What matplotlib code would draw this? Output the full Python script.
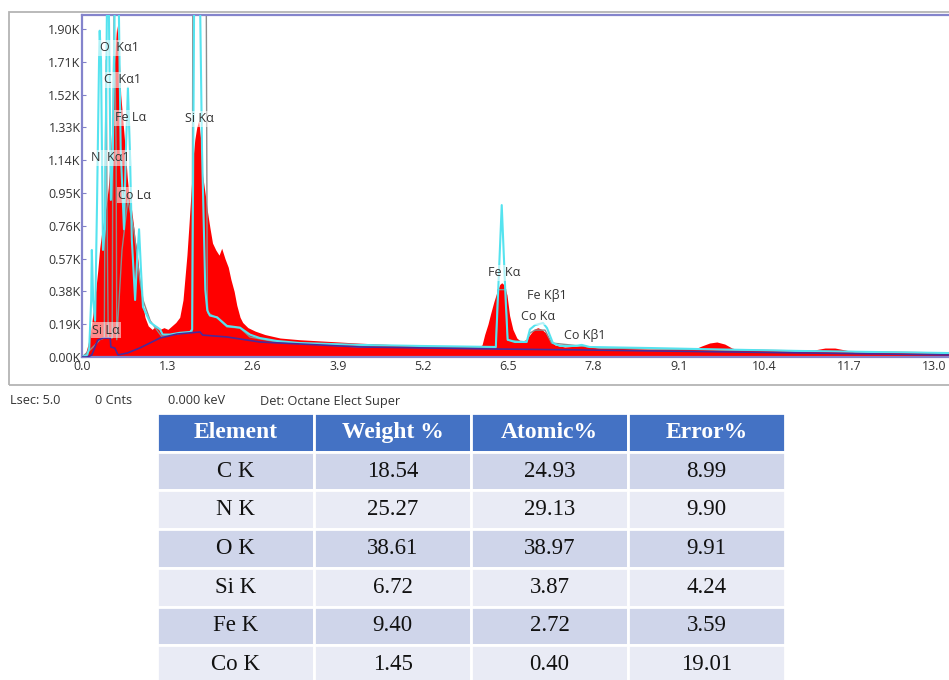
import numpy as np
import matplotlib
matplotlib.use('Agg')
import matplotlib.pyplot as plt
from matplotlib.patches import Rectangle
from matplotlib.ticker import FixedLocator, FuncFormatter

plt.rcParams['font.family'] = ['Open Sans', 'DejaVu Sans']

# measured spectrum (keV, kilo-counts)
spec_kev = [0.00, 0.06, 0.09, 0.12, 0.15, 0.18, 0.21, 0.24, 0.27, 0.30, 0.34, 0.37, 0.40, 0.43,
            0.46, 0.49, 0.52, 0.53, 0.56, 0.59, 0.63, 0.66, 0.69, 0.72, 0.75, 0.78, 0.81, 0.84,
            0.87, 0.90, 0.93, 0.96, 1.01, 1.07, 1.13, 1.19, 1.25, 1.31, 1.37, 1.43, 1.49, 1.54,
            1.57, 1.60, 1.63, 1.66, 1.69, 1.72, 1.75, 1.78, 1.81, 1.84, 1.88, 1.91, 1.95, 1.99,
            2.04, 2.09, 2.13, 2.18, 2.23, 2.27, 2.32, 2.36, 2.41, 2.45, 2.53, 2.64, 2.79, 3.02,
            3.32, 3.78, 4.24, 4.85, 5.46, 6.04, 6.10, 6.14, 6.19, 6.23, 6.28, 6.33, 6.37, 6.40,
            6.43, 6.48, 6.52, 6.57, 6.63, 6.69, 6.77, 6.83, 6.89, 6.95, 7.01, 7.07, 7.13, 7.21,
            7.36, 7.59, 7.90, 8.66, 9.34, 9.45, 9.57, 9.68, 9.80, 9.91, 10.03, 10.95, 11.17,
            11.33, 11.48, 11.63, 11.78, 13.22]
spec_cnt = [0.00, 0.03, 0.07, 0.13, 0.20, 0.30, 0.39, 0.50, 0.63, 0.72, 0.81, 0.88, 0.98, 1.14,
            1.37, 1.66, 1.87, 1.92, 1.81, 1.52, 1.34, 1.20, 1.04, 0.92, 0.87, 0.78, 0.68, 0.61,
            0.49, 0.39, 0.30, 0.23, 0.18, 0.16, 0.18, 0.16, 0.17, 0.16, 0.18, 0.20, 0.23, 0.33,
            0.46, 0.59, 0.76, 0.94, 1.14, 1.26, 1.33, 1.37, 1.26, 1.05, 0.94, 0.85, 0.75, 0.66,
            0.62, 0.59, 0.63, 0.57, 0.52, 0.45, 0.38, 0.30, 0.23, 0.20, 0.17, 0.15, 0.13, 0.11,
            0.10, 0.09, 0.08, 0.07, 0.064, 0.058, 0.07, 0.13, 0.19, 0.25, 0.32, 0.38, 0.42, 0.43,
            0.42, 0.36, 0.24, 0.16, 0.11, 0.09, 0.10, 0.13, 0.16, 0.17, 0.16, 0.14, 0.10, 0.07,
            0.058, 0.064, 0.052, 0.046, 0.046, 0.064, 0.081, 0.087, 0.075, 0.052, 0.041, 0.035, 0.041,
            0.052, 0.052, 0.041, 0.029, 0.023]

# fitted spectrum
fit_kev = [0.00, 0.08, 0.11, 0.14, 0.15, 0.17, 0.20, 0.23, 0.26, 0.27, 0.29, 0.32, 0.35, 0.38,
           0.40, 0.41, 0.44, 0.47, 0.50, 0.53, 0.56, 0.59, 0.64, 0.67, 0.70, 0.73, 0.76, 0.81,
           0.84, 0.87, 0.90, 0.93, 1.04, 1.19, 1.23, 1.34, 1.49, 1.65, 1.68, 1.71, 1.74, 1.77,
           1.80, 1.83, 1.88, 1.91, 1.95, 2.06, 2.21, 2.41, 2.56, 2.71, 2.97, 3.32, 4.24, 5.15,
           6.31, 6.34, 6.40, 6.46, 6.49, 6.60, 6.78, 6.83, 6.91, 7.03, 7.09, 7.18, 7.29, 7.52,
           7.62, 7.74, 8.66, 9.42, 10.95, 13.22]
fit_cnt = [0.00, 0.012, 0.052, 0.33, 0.62, 0.33, 0.21, 0.91, 1.72, 1.89, 1.72, 0.62, 0.74, 2.01,
           2.07, 2.01, 0.91, 1.20, 2.07, 2.36, 2.07, 1.20, 0.74, 1.20, 1.56, 1.20, 0.68, 0.33,
           0.56, 0.74, 0.50, 0.29, 0.20, 0.16, 0.13, 0.13, 0.14, 0.145, 0.16, 2.07, 2.65, 2.65,
           2.07, 1.20, 0.39, 0.27, 0.24, 0.23, 0.18, 0.17, 0.13, 0.11, 0.093, 0.081, 0.070, 0.064,
           0.058, 0.33, 0.88, 0.33, 0.10, 0.087, 0.087, 0.16, 0.185, 0.197, 0.168, 0.081, 0.064, 0.064,
           0.070, 0.058, 0.052, 0.046, 0.035, 0.023]

# fit outline (grey)
grey_kev = [0.00, 0.12, 0.20, 0.27, 0.34, 0.35, 0.37, 0.38, 0.40, 0.46, 0.47, 0.49, 0.52, 0.53,
            0.61, 0.70, 0.79, 0.88, 0.93, 1.04, 1.22, 1.42, 1.68, 1.69, 1.71, 1.89, 1.91, 1.92,
            2.06, 2.21, 2.41, 2.56, 2.97, 4.24, 6.31, 6.34, 6.46, 6.49, 6.78, 6.83, 6.91, 7.06,
            7.16, 7.90, 13.22]
grey_cnt = [0.00, 0.04, 0.07, 0.10, 0.11, 0.91, 1.72, 0.91, 0.11, 0.11, 1.20, 2.03, 1.20, 0.10,
            0.62, 0.91, 0.74, 0.45, 0.33, 0.21, 0.116, 0.133, 0.145, 2.07, 2.65, 2.65, 0.33, 0.255,
            0.226, 0.174, 0.168, 0.116, 0.087, 0.058, 0.052, 0.39, 0.39, 0.098, 0.087, 0.139, 0.156, 0.156,
            0.081, 0.052, 0.023]

# background (continuum)
bkg_kev = [0.00, 0.08, 0.15, 0.24, 0.32, 0.43, 0.44, 0.50, 0.55, 0.69, 0.88, 1.19, 1.45, 1.80,
           1.84, 2.21, 2.71, 4.24, 6.37, 7.59, 13.22]
bkg_cnt = [0.00, 0.00, 0.012, 0.098, 0.11, 0.11, 0.058, 0.052, 0.012, 0.023, 0.052, 0.11, 0.133,
           0.145, 0.127, 0.116, 0.087, 0.058, 0.046, 0.041, 0.012]

peak_labels = ['O  K\u03b11', 'C  K\u03b11', 'Fe L\u03b1', 'N  K\u03b11', 'Co L\u03b1', 'Si L\u03b1',
               'Si K\u03b1', 'Fe K\u03b1', 'Fe K\u03b21', 'Co K\u03b1', 'Co K\u03b21']
label_kev = [0.27, 0.34, 0.50, 0.14, 0.55, 0.15, 1.57, 6.19, 6.78, 6.69, 7.35]
label_cnt = [1.79, 1.605, 1.385, 1.153, 0.938, 0.156, 1.379, 0.487, 0.359, 0.232, 0.127]

y_ticks = [0.00, 0.19, 0.38, 0.57, 0.76, 0.95, 1.14, 1.33, 1.52, 1.71, 1.90]
x_ticks = [0.0, 1.3, 2.6, 3.9, 5.2, 6.5, 7.8, 9.1, 10.4, 11.7, 13.0]

status = ['Lsec: 5.0', '0 Cnts', '0.000 keV', 'Det: Octane Elect Super']
status_x = [10, 95, 168, 260]

col_labels = ['Element', 'Weight %', 'Atomic%', 'Error%']
elements = ['C K', 'N K', 'O K', 'Si K', 'Fe K', 'Co K']
weight = ['18.54', '25.27', '38.61', '6.72', '9.40', '1.45']
atomic = ['24.93', '29.13', '38.97', '3.87', '2.72', '0.40']
error = ['8.99', '9.90', '9.91', '4.24', '3.59', '19.01']

W, H = 949, 680
fig = plt.figure(figsize=(W / 100, H / 100), dpi=100)

# outer window frame
fig.add_artist(Rectangle((9 / W, 1 - 385 / H), 1.0, (385 - 12) / H, transform=fig.transFigure,
                         fill=False, ec='#b4b4b4', lw=1.3))

ax = fig.add_axes([82 / W, 1 - 357 / H, (W - 82) / W, (357 - 15) / H])
ax.fill_between(spec_kev, spec_cnt, 0, color='#ff0000', lw=0, zorder=1)
ax.plot(grey_kev, grey_cnt, color='#8c8c8c', lw=1.0, zorder=2)
ax.plot(fit_kev, fit_cnt, color='#55e3ef', lw=1.5, zorder=3)
ax.plot(bkg_kev, bkg_cnt, color='#4a2a9a', lw=1.2, zorder=4)

for lab, lx, ly in zip(peak_labels, label_kev, label_cnt):
    ax.text(lx, ly, lab, fontsize=9, color='#333333', ha='left', va='center', zorder=5,
            bbox=dict(boxstyle='square,pad=0.1', fc='white', ec='none', alpha=0.55))

ax.set_xlim(0, 13.22)
ax.set_ylim(0, 1.981)
ax.xaxis.set_major_locator(FixedLocator(x_ticks))
ax.yaxis.set_major_locator(FixedLocator(y_ticks))
ax.xaxis.set_major_formatter(FuncFormatter(lambda v, p: '%.1f' % v))
ax.yaxis.set_major_formatter(FuncFormatter(lambda v, p: '%.2fK' % v))
ax.tick_params(axis='x', length=0, pad=2, labelsize=9, labelcolor='#333333')
ax.tick_params(axis='y', direction='in', length=3, width=0.8, color='#8080c8', pad=1,
               labelsize=9, labelcolor='#333333')
for s in ['left', 'top', 'bottom']:
    ax.spines[s].set_color('#8484cc')
    ax.spines[s].set_linewidth(1.6)
ax.spines['right'].set_visible(False)

for t, sx in zip(status, status_x):
    fig.text(sx / W, 1 - 401 / H, t, fontsize=9.2, color='#333333', va='center', ha='left')

# table
tab_ax = fig.add_axes([0, 0, 1, 1])
tab_ax.axis('off')
rows = [list(r) for r in zip(elements, weight, atomic, error)]
tab = tab_ax.table(cellText=rows, colLabels=col_labels, cellLoc='center',
                   bbox=[157 / W, -4 / H, 628 / W, 271 / H])
tab.auto_set_font_size(False)
for (r, c), cell in tab.get_celld().items():
    cell.set_edgecolor('white')
    cell.set_linewidth(2)
    if r == 0:
        cell.set_facecolor('#4472c4')
        cell.get_text().set_color('white')
        cell.get_text().set_fontfamily('Liberation Serif')
        cell.get_text().set_fontweight('bold')
        cell.get_text().set_fontsize(17)
    else:
        cell.set_facecolor('#cfd5ea' if r % 2 == 1 else '#e9ebf5')
        cell.get_text().set_color('#111111')
        cell.get_text().set_fontfamily('Liberation Serif')
        cell.get_text().set_fontsize(16.5)

fig.savefig('out.png', dpi=100)
